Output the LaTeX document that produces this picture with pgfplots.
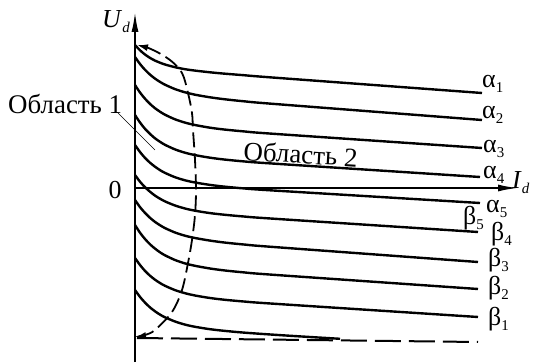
\documentclass[border=0pt]{standalone}
\usepackage{fontspec}
\setmainfont{Liberation Serif}
\usepackage{pgfplots}
\pgfplotsset{compat=1.18}
\usetikzlibrary{arrows.meta}
\newcommand\sub[1]{\raisebox{-5bp}{\fontsize{15}{15}\selectfont #1}}
\begin{document}
\begin{tikzpicture}[font=\rmfamily\fontsize{26}{30}\selectfont]
\begin{axis}[
 axis lines=middle, xmin=0,xmax=383,ymin=-174,ymax=176,
 width=383bp,height=350bp,scale only axis,
 xtick=\empty,ytick=\empty, clip=false,
 axis line style={line width=1.8bp},
 every inner x axis line/.append style={-{Latex[length=20bp,width=7bp]}},
 every inner y axis line/.append style={-{Latex[length=20bp,width=7bp]}},
 every axis plot/.append style={line width=2.4bp, black, no markers, solid},
]
\path (axis cs:-135,-174) rectangle (axis cs:398,188);
% alpha curves
\addplot[smooth,tension=0.5] coordinates {(0,143)(5,137.7)(10,133.5)(15,130.1)(20,127.4)(25,125.3)(30,123.5)(40,120.8)(50,118.8)(60,117.4)(75,115.7)(90,114.3)(110,112.7)(140,110.3)(347,95)};
\addplot[smooth,tension=0.5] coordinates {(0,131)(5,124.0)(10,118.2)(15,113.4)(20,109.4)(25,106.1)(30,103.3)(40,98.9)(50,95.7)(60,93.3)(75,90.7)(90,88.7)(110,86.6)(140,84.0)(347,68)};
\addplot[smooth,tension=0.5] coordinates {(0,103)(5,95.5)(10,89.3)(15,84.1)(20,79.8)(25,76.3)(30,73.3)(40,68.7)(50,65.4)(60,63.0)(75,60.3)(90,58.4)(110,56.5)(140,54.1)(347,40)};
\addplot[smooth,tension=0.5] coordinates {(0,73)(5,65.5)(10,59.2)(15,54.1)(20,49.7)(25,46.2)(30,43.2)(40,38.6)(50,35.3)(60,32.9)(75,30.3)(90,28.4)(110,26.5)(140,24.3)(345,11)};
\addplot[smooth,tension=0.5] coordinates {(0,43)(5,36.0)(10,30.1)(15,25.3)(20,21.3)(25,17.9)(30,15.1)(40,10.8)(50,7.7)(60,5.5)(75,3.1)(90,1.3)(110,-0.5)(140,-2.6)(345,-15)};
% beta curves
\addplot[smooth,tension=0.5] coordinates {(0,13)(5,6.3)(10,0.8)(15,-3.7)(20,-7.6)(25,-10.7)(30,-13.4)(40,-17.5)(50,-20.5)(60,-22.7)(75,-25.1)(90,-26.8)(110,-28.6)(140,-30.8)(343,-44)};
\addplot[smooth,tension=0.5] coordinates {(0,-12)(5,-19.1)(10,-24.9)(15,-29.8)(20,-33.9)(25,-37.2)(30,-40.1)(40,-44.5)(50,-47.7)(60,-50.0)(75,-52.6)(90,-54.6)(110,-56.6)(140,-59.1)(343,-74)};
\addplot[smooth,tension=0.5] coordinates {(0,-37)(5,-44.7)(10,-51.0)(15,-56.3)(20,-60.6)(25,-64.3)(30,-67.3)(40,-72.0)(50,-75.4)(60,-77.8)(75,-80.5)(90,-82.5)(110,-84.5)(140,-86.9)(343,-101)};
\addplot[smooth,tension=0.5] coordinates {(0,-70)(5,-77.0)(10,-82.9)(15,-87.7)(20,-91.7)(25,-95.0)(30,-97.8)(40,-102.1)(50,-105.2)(60,-107.5)(75,-110.0)(90,-111.8)(110,-113.6)(140,-115.8)(343,-129)};
\addplot[smooth,tension=0.5] coordinates {(0,-102)(5,-108.9)(10,-114.6)(15,-119.4)(20,-123.3)(25,-126.6)(30,-129.3)(40,-133.5)(50,-136.6)(60,-138.8)(75,-141.2)(90,-142.9)(110,-144.7)(140,-146.8)(170,-148.7)(205,-150.8)};
% dashed bottom line
\addplot[line width=2bp, dash pattern=on 26bp off 8bp] coordinates {(2,-150)(343,-154)};
% dashed boundary
\addplot[smooth,tension=0.55,line width=1.8bp, dash pattern=on 15bp off 6bp,
  {Latex[length=11bp,width=7bp]}-{Latex[length=11bp,width=7bp]}] coordinates
  {(2,143)(18,138)(35,128)(47,115)(53,95)(57,75)(58,58)(60,28)(61,-2)(60,-27)(57,-52)(53,-75)(47,-102)(37,-124)(20,-142)(10,-147)(0,-149)};
% labels
\draw[line width=0.6bp] (axis cs:-17,75) -- (axis cs:20,38);
\node[anchor=base west,inner sep=0,font=\rmfamily\fontsize{27}{30}\selectfont] at (axis cs:-127,75) {Область 1};
\node[anchor=base west,inner sep=0,rotate=-3.5,font=\rmfamily\fontsize{27}{30}\selectfont] at (axis cs:108,28) {Область 2};
\node[anchor=center,inner sep=0] at (axis cs:-20,-2) {0};
\node[anchor=base west,inner sep=0] at (axis cs:-33,161) {\textit{U}\sub{\textit{d}}};
\node[anchor=base west,inner sep=0] at (axis cs:377,0) {\textit{I}\sub{\textit{d}}};
\node[anchor=base west,inner sep=0] at (axis cs:347,101) {α\sub{1}};
\node[anchor=base west,inner sep=0] at (axis cs:347,70) {α\sub{2}};
\node[anchor=base west,inner sep=0] at (axis cs:348,36) {α\sub{3}};
\node[anchor=base west,inner sep=0] at (axis cs:348,10) {α\sub{4}};
\node[anchor=base west,inner sep=0] at (axis cs:351,-24) {α\sub{5}};
\node[anchor=base west,inner sep=0] at (axis cs:328,-36) {β\sub{5}};
\node[anchor=base west,inner sep=0] at (axis cs:356,-52) {β\sub{4}};
\node[anchor=base west,inner sep=0] at (axis cs:353,-78) {β\sub{3}};
\node[anchor=base west,inner sep=0] at (axis cs:353,-106) {β\sub{2}};
\node[anchor=base west,inner sep=0] at (axis cs:353,-137) {β\sub{1}};
\end{axis}
\end{tikzpicture}
\end{document}
